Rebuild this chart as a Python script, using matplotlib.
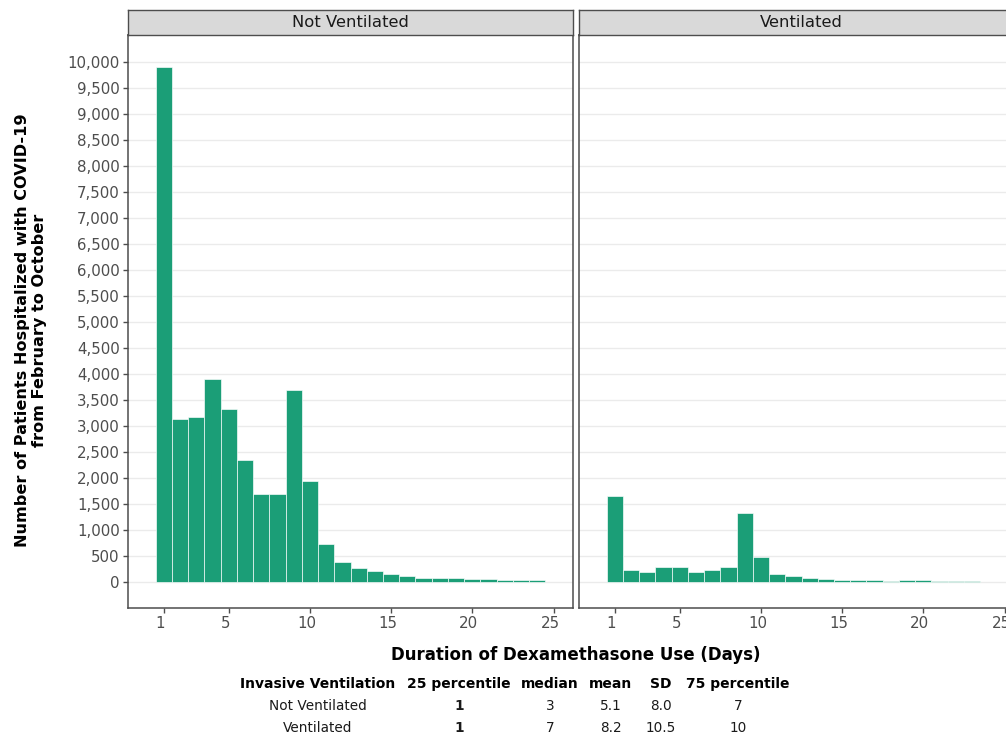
import matplotlib
matplotlib.use("Agg")
import matplotlib.pyplot as plt
import matplotlib.transforms as mtransforms
from matplotlib.ticker import FuncFormatter

# ---- data ----
panels = ["Not Ventilated", "Ventilated"]
days_not_vent = list(range(1, 25))
counts_not_vent = [9900, 3130, 3175, 3915, 3335, 2355, 1700, 1700, 3700, 1950,
                   740, 380, 280, 225, 155, 125, 85, 85, 85, 65, 65, 45, 45, 45]
days_vent = list(range(1, 24))
counts_vent = [1650, 245, 205, 285, 290, 205, 240, 290, 1325, 490,
               160, 125, 85, 65, 50, 45, 45, 25, 45, 45, 25, 25, 25]

yticks = list(range(0, 10001, 500))
xticks = [1, 5, 10, 15, 20, 25]

table_header = ["Invasive Ventilation", "25 percentile", "median", "mean", "SD", "75 percentile"]
table_rows = [["Not Ventilated", "1", "3", "5.1", "8.0", "7"],
              ["Ventilated", "1", "7", "8.2", "10.5", "10"]]

# ---- style ----
W, H = 1006, 737
fig = plt.figure(figsize=(W / 100, H / 100), dpi=100)
fig.patch.set_facecolor("white")
bar_color = "#1b9e77"

def fx(px):
    return px / W

def fy(py):
    return 1 - py / H

ax_left_px = [128, 579]
ax_w_px = 445
ax_top_px, ax_bot_px = 35, 608

series = [(days_not_vent, counts_not_vent), (days_vent, counts_vent)]

for i, (name, (d, c)) in enumerate(zip(panels, series)):
    x0 = ax_left_px[i]
    ax = fig.add_axes([fx(x0), fy(ax_bot_px), ax_w_px / W, (ax_bot_px - ax_top_px) / H])
    ax.bar(d, c, width=1.0, color=bar_color, edgecolor="white", linewidth=0.45, zorder=3)
    ax.set_xlim(-1.2, 26.2)
    ax.set_ylim(-495, 10520)
    ax.set_yticks(yticks)
    ax.set_xticks(xticks)
    ax.yaxis.set_major_formatter(FuncFormatter(lambda v, p: f"{int(v):,}"))
    ax.grid(axis="y", color="#ebebeb", linewidth=1.0, zorder=0)
    ax.grid(axis="x", visible=False)
    ax.set_axisbelow(True)
    for s in ax.spines.values():
        s.set_color("#4d4d4d")
        s.set_linewidth(1.1)
    ax.tick_params(axis="both", colors="#4d4d4d", labelcolor="#4d4d4d",
                   length=3.5, width=1, labelsize=10.8, pad=2.5)
    if i == 1:
        ax.tick_params(axis="y", left=False, labelleft=False)
    offset = mtransforms.ScaledTranslation(-3.5 / 100, 0, fig.dpi_scale_trans)
    for lab in ax.get_xticklabels():
        lab.set_transform(lab.get_transform() + offset)

    # strip
    sax = fig.add_axes([fx(x0), fy(35), ax_w_px / W, 25 / H])
    sax.set_facecolor("#d9d9d9")
    sax.set_xticks([])
    sax.set_yticks([])
    for s in sax.spines.values():
        s.set_color("#4d4d4d")
        s.set_linewidth(1.0)
    sax.text(0.5, 0.5, name, ha="center", va="center", fontsize=11.8,
             color="#1a1a1a", transform=sax.transAxes)

# axis titles
fig.text(fx(576), fy(655), "Duration of Dexamethasone Use (Days)", ha="center", va="center",
         fontsize=12.0, fontweight="bold", color="black")
fig.text(fx(31), fy(330), "Number of Patients Hospitalized with COVID-19\nfrom February to October",
         ha="center", va="center", rotation=90, fontsize=11.6, fontweight="bold",
         color="black", multialignment="center", linespacing=1.15)

# summary table
col_x = [318, 459, 550, 611, 661, 738]
row_y = [684, 706, 728]
for cx, h in zip(col_x, table_header):
    fig.text(fx(cx), fy(row_y[0]), h, ha="center", va="center", fontsize=10,
             fontweight="bold", color="black")
for r, row in enumerate(table_rows):
    for j, (cx, v) in enumerate(zip(col_x, row)):
        fig.text(fx(cx), fy(row_y[r + 1]), v, ha="center", va="center", fontsize=9.8,
                 fontweight="bold" if j == 1 else "normal", color="#1a1a1a")

fig.savefig("out.png", dpi=100, facecolor="white")
